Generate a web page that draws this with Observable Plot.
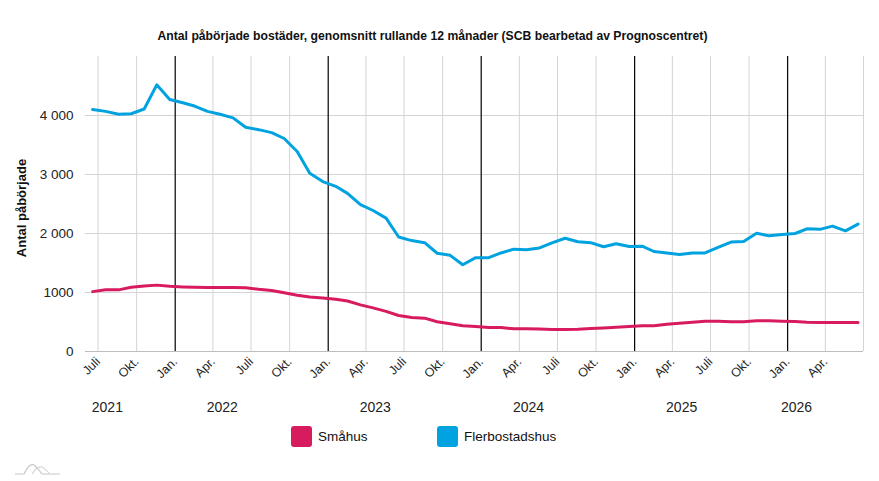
<!DOCTYPE html>
<html><head><meta charset="utf-8">
<script src="https://cdn.jsdelivr.net/npm/d3@7"></script>
<script src="https://cdn.jsdelivr.net/npm/@observablehq/plot@0.6"></script>
<style>
body{margin:0;background:#fff;font-family:"Liberation Sans",Arial,sans-serif;width:879px;height:481px;position:relative;overflow:hidden;color:#111}
#title{position:absolute;left:0;top:28px;width:865px;text-align:center;font-weight:bold;font-size:12.2px;line-height:16px}
#chart{position:absolute;left:0;top:48px}
#legend{position:absolute;top:425px;left:0;width:879px;height:22px}
.item{position:absolute;top:0;display:flex;align-items:center;font-size:13.5px;height:22px}
.sw{width:21px;height:21px;border-radius:3px;margin-right:6px}
#logo{position:absolute;left:12px;top:458px}
</style>
</head><body>
<div id="title">Antal påbörjade bostäder, genomsnitt rullande 12 månader (SCB bearbetad av Prognoscentret)</div>
<div id="chart"></div>
<div id="legend"></div>
<svg id="logo" width="50" height="20" viewBox="0 0 50 20">
  <path d="M3 16 L12 16 Q17 5 22 7 Q26 10 30 16 L48 16" fill="none" stroke="#c8c8c8" stroke-width="1.2"/>
  <path d="M20 16 Q25 8 30 9 Q34 11 38 16" fill="none" stroke="#d6d6d6" stroke-width="1.2"/>
</svg>
<script>
// ---- data ----
const seriesNames = ["Småhus", "Flerbostadshus"];
const seriesColors = ["#d81b5e", "#00a3e0"];
const firstMonth = "2021-07-01";
const lastMonth = "2026-07-01";
const smahus = [1015,1045,1045,1090,1110,1125,1105,1095,1090,1085,1085,1085,
                1080,1055,1035,995,955,925,905,885,855,790,740,680,
                610,575,565,505,470,435,425,407,407,385,385,380,
                373,373,378,390,400,412,424,435,435,463,480,497,
                514,514,503,503,520,520,514,509,497,492,492,492,492];
const flerbostadshus = [4100,4070,4020,4030,4110,4520,4270,4215,4160,4070,4020,3960,
                3800,3760,3710,3610,3390,3020,2880,2800,2680,2490,2390,2260,
                1940,1880,1845,1665,1630,1470,1590,1590,1670,1735,1725,1755,
                1840,1920,1860,1845,1775,1825,1780,1785,1695,1670,1645,1670,
                1670,1765,1855,1865,2005,1960,1985,2000,2080,2070,2125,2045,2160];
const monthLabels = {0: "Jan.", 3: "Apr.", 6: "Juli", 9: "Okt."};
const yTicks = [0, 1000, 2000, 3000, 4000];
const yTickLabels = ["0", "1000", "2 000", "3 000", "4 000"];
const years = ["2021", "2022", "2023", "2024", "2025", "2026"];
const yLabel = "Antal påbörjade";

// ---- build ----
const months = d3.utcMonth.range(new Date(firstMonth), d3.utcMonth.offset(new Date(lastMonth), 1));
const rows = [];
months.forEach((m, i) => {
  rows.push({date: m, value: smahus[i], serie: seriesNames[0]});
  rows.push({date: m, value: flerbostadshus[i], serie: seriesNames[1]});
});
// quarter ticks (placed mid-label like the source)
const quarterStarts = months.filter(m => m.getUTCMonth() % 3 === 0);
const tickOf = m => d3.utcDay.offset(m, 13);
const allTicks = quarterStarts.map(tickOf);
const labelTicks = allTicks.slice(0, -1);
const janTicks = allTicks.filter(t => t.getUTCMonth() === 0);
const otherTicks = allTicks.filter(t => t.getUTCMonth() !== 0);
const yearPos = years.map(y => {
  const ts = labelTicks.filter(t => t.getUTCFullYear() === +y);
  return {year: y, date: new Date(d3.mean(ts, t => +t))};
});
const xDomain = [d3.utcMonth.offset(allTicks[0], -1), allTicks[allTicks.length - 1]];

const chart = Plot.plot({
  width: 879,
  height: 375,
  marginTop: 8,
  marginLeft: 85,
  marginRight: 16,
  marginBottom: 72,
  style: {fontFamily: '"Liberation Sans", Arial, sans-serif', color: "#222", background: "#fff"},
  x: {type: "utc", domain: xDomain},
  y: {domain: [0, 5000]},
  color: {domain: seriesNames, range: seriesColors},
  marks: [
    Plot.ruleY(yTicks.slice(1), {stroke: "#d4d4d4", strokeWidth: 1}),
    Plot.ruleX(otherTicks, {stroke: "#d4d4d4", strokeWidth: 1}),
    Plot.ruleX(janTicks, {stroke: "#000", strokeWidth: 1.2}),
    Plot.ruleY([0], {stroke: "#bdbdbd", strokeWidth: 1.2}),
    Plot.axisY({ticks: yTicks, tickSize: 0, tickPadding: 12, fontSize: 13.5,
      tickFormat: d => yTickLabels[yTicks.indexOf(d)], label: null}),
    Plot.axisX({ticks: labelTicks, tickSize: 0, tickPadding: 8, tickRotate: -45, fontSize: 12.5,
      tickFormat: d => monthLabels[d.getUTCMonth()], label: null}),
    Plot.text(yearPos, {x: "date", text: "year", frameAnchor: "bottom", dy: 60, dx: -10, fontSize: 14, fill: "#222"}),
    Plot.text([yLabel], {frameAnchor: "left", textAnchor: "middle", dx: -64, dy: 4, rotate: -90, fontWeight: "bold", fontSize: 13, fill: "#111"}),
    Plot.lineY(rows, {x: "date", y: "value", z: "serie", stroke: "serie", strokeWidth: 3, curve: "linear"})
  ]
});
document.getElementById("chart").appendChild(chart);

// legend
const legend = document.getElementById("legend");
const lefts = [291, 437];
seriesNames.forEach((n, i) => {
  const it = document.createElement("div");
  it.className = "item";
  it.style.left = lefts[i] + "px";
  it.innerHTML = `<span class="sw" style="background:${seriesColors[i]}"></span><span>${n}</span>`;
  legend.appendChild(it);
});
</script>
</body></html>
